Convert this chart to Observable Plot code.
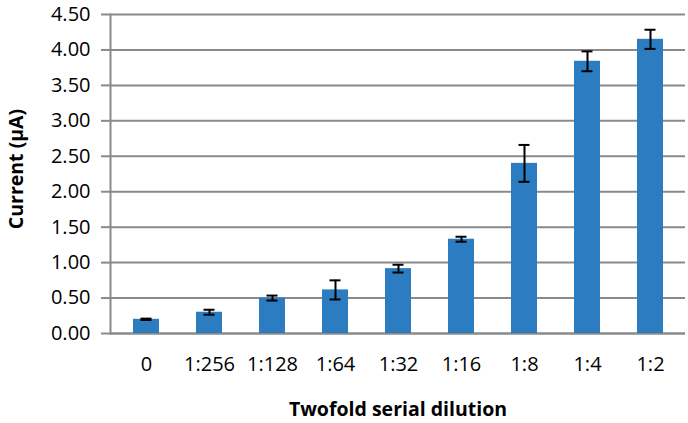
<!DOCTYPE html>
<html>
<head>
<meta charset="utf-8">
<script src="https://cdn.jsdelivr.net/npm/d3@7"></script>
<script src="https://cdn.jsdelivr.net/npm/@observablehq/plot@0.6"></script>
<style>
  html, body { margin: 0; padding: 0; background: #fff; }
</style>
</head>
<body>
<div id="chart"></div>
<script>
const categories = ["0", "1:256", "1:128", "1:64", "1:32", "1:16", "1:8", "1:4", "1:2"];
const currents = [0.20, 0.30, 0.50, 0.615, 0.915, 1.33, 2.40, 3.84, 4.15];
const errors = [0.01, 0.035, 0.035, 0.135, 0.055, 0.035, 0.26, 0.14, 0.135];
const yTicks = [0, 0.5, 1, 1.5, 2, 2.5, 3, 3.5, 4, 4.5];
const xTitle = "Twofold serial dilution";
const yTitle = "Current (µA)";

const data = categories.map((c, i) => ({cat: c, v: currents[i], lo: currents[i] - errors[i], hi: currents[i] + errors[i]}));

const grey = "#8a8a8a";
const chart = Plot.plot({
  width: 688,
  height: 423,
  marginLeft: 110,
  marginRight: 3,
  marginTop: 14,
  marginBottom: 90,
  style: {fontFamily: "'Open Sans', sans-serif", fontSize: "20px", color: "#000", background: "#fff"},
  x: {domain: categories, paddingInner: 0.59, paddingOuter: 0.295, label: null},
  y: {domain: [0, 4.5], label: null},
  marks: [
    Plot.gridY(yTicks, {stroke: grey, strokeOpacity: 1, strokeWidth: 2}),
    Plot.axisY(yTicks, {tickFormat: d3.format(".2f"), tickSize: 9, tickPadding: 11, stroke: grey, strokeWidth: 2, strokeOpacity: 1, label: null, fontSize: 20}),
    Plot.axisX({tickSize: 0, tickPadding: 23, label: null, fontSize: 20}),
    Plot.frame({anchor: "left", stroke: grey, strokeWidth: 2}),
    Plot.ruleY([0], {stroke: grey, strokeWidth: 2}),
    Plot.barY(data, {x: "cat", y: "v", fill: "#2b7cc1"}),
    Plot.ruleX(data, {x: "cat", y1: "lo", y2: "hi", stroke: "#000", strokeWidth: 2}),
    Plot.tickY(data, {x: "cat", y: "lo", stroke: "#000", strokeWidth: 2, insetLeft: 7.5, insetRight: 7.5}),
    Plot.tickY(data, {x: "cat", y: "hi", stroke: "#000", strokeWidth: 2, insetLeft: 7.5, insetRight: 7.5}),
    Plot.text([xTitle], {frameAnchor: "bottom", textAnchor: "middle", lineAnchor: "middle", dy: 76, fontWeight: "bold", fontSize: 19.5, fill: "#000"}),
    Plot.text([yTitle], {frameAnchor: "left", textAnchor: "middle", lineAnchor: "middle", dx: -94, dy: -5, rotate: -90, fontWeight: "bold", fontSize: 19.5, fill: "#000"})
  ]
});
document.getElementById("chart").appendChild(chart);
</script>
</body>
</html>
